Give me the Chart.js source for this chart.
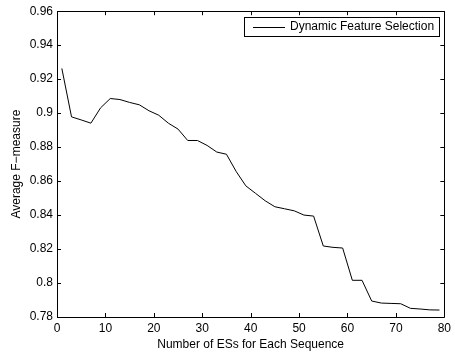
<!DOCTYPE html>
<html>
<head>
<meta charset="utf-8">
<script src="https://cdn.jsdelivr.net/npm/chart.js@4"></script>
<style>
  body { margin: 0; background: #fff; }
  #wrap { width: 455px; height: 354px; }
</style>
</head>
<body>
<div id="wrap"><canvas id="myChart" width="455" height="354"></canvas></div>
<script>
// number of ESs (x) and average F-measure (y)
var numES = [1, 3, 5, 7, 9, 11, 13, 15, 17, 19, 21, 23, 25, 27, 29, 31, 33, 35, 37, 39,
             41, 43, 45, 47, 49, 51, 53, 55, 57, 59, 61, 63, 65, 67, 69, 71, 73, 75, 77, 79];
var fMeasure = [0.9263, 0.8978, 0.8960, 0.8941, 0.9031, 0.9086, 0.9080, 0.9063, 0.9049, 0.9014,
                0.8988, 0.8941, 0.8906, 0.8839, 0.8839, 0.8810, 0.8771, 0.8758, 0.8657, 0.8572,
                0.8528, 0.8484, 0.8449, 0.8437, 0.8425, 0.8400, 0.8394, 0.8218, 0.8210, 0.8206,
                0.8016, 0.8016, 0.7894, 0.7882, 0.7880, 0.7878, 0.7851, 0.7847, 0.7842, 0.7841];
var xTicks = [0, 10, 20, 30, 40, 50, 60, 70, 80];
var yTicks = [0.78, 0.8, 0.82, 0.84, 0.86, 0.88, 0.9, 0.92, 0.94, 0.96];
var seriesName = 'Dynamic Feature Selection';

var FAMILY = '"Liberation Sans", Arial, sans-serif';

// matlab style box, inward ticks and boxed legend
var matlabBox = {
  id: 'matlabBox',
  afterDraw: function(chart) {
    var ctx = chart.ctx;
    var a = chart.chartArea;
    var xs = chart.scales.x, ys = chart.scales.y;
    ctx.save();
    ctx.strokeStyle = '#000';
    ctx.lineWidth = 1;
    ctx.beginPath();
    ctx.rect(Math.round(a.left) + 0.5, Math.round(a.top) + 0.5,
             Math.round(a.right - a.left), Math.round(a.bottom - a.top));
    ctx.stroke();
    var tl = 4;
    ctx.beginPath();
    xTicks.forEach(function(v) {
      var px = Math.round(xs.getPixelForValue(v)) + 0.5;
      ctx.moveTo(px, a.bottom); ctx.lineTo(px, a.bottom - tl);
      ctx.moveTo(px, a.top); ctx.lineTo(px, a.top + tl);
    });
    yTicks.forEach(function(v) {
      var py = Math.round(ys.getPixelForValue(v)) + 0.5;
      ctx.moveTo(a.left, py); ctx.lineTo(a.left + tl, py);
      ctx.moveTo(a.right, py); ctx.lineTo(a.right - tl, py);
    });
    ctx.stroke();

    // legend
    var lx = 244, ly = 17, lw = 195, lh = 19;
    ctx.fillStyle = '#fff';
    ctx.fillRect(lx, ly, lw, lh);
    ctx.strokeRect(lx + 0.5, ly + 0.5, lw, lh);
    ctx.beginPath();
    ctx.moveTo(253, ly + 10.5); ctx.lineTo(285, ly + 10.5);
    ctx.stroke();
    ctx.fillStyle = '#000';
    ctx.font = '12px ' + FAMILY;
    ctx.textBaseline = 'middle';
    ctx.fillText(seriesName, 290, ly + 10);
    ctx.restore();
  }
};

var ctx = document.getElementById('myChart').getContext('2d');
var myChart = new Chart(ctx, {
  type: 'line',
  data: {
    datasets: [{
      label: seriesName,
      data: numES.map(function(x, i) { return { x: x, y: fMeasure[i] }; }),
      fill: false,
      borderColor: '#000',
      borderWidth: 1,
      pointRadius: 0,
      tension: 0
    }]
  },
  options: {
    responsive: false,
    animation: false,
    events: [],
    layout: { padding: { top: 11, right: 7, left: 0, bottom: 0 } },
    plugins: {
      legend: { display: false },
      tooltip: { enabled: false }
    },
    scales: {
      x: {
        type: 'linear',
        min: 0, max: 80,
        afterFit: function(s) { s.height = 37; },
        afterBuildTicks: function(s) { s.ticks = xTicks.map(function(v) { return { value: v }; }); },
        grid: { display: false, drawTicks: false },
        border: { display: false },
        ticks: { color: '#000', font: { family: FAMILY, size: 12 }, padding: 4, maxRotation: 0 },
        title: { display: true, text: 'Number of ESs for Each Sequence', color: '#000',
                 font: { family: FAMILY, size: 12 }, padding: { top: 0, bottom: 2 } }
      },
      y: {
        min: 0.78, max: 0.96,
        afterFit: function(s) { s.width = 57; },
        afterBuildTicks: function(s) { s.ticks = yTicks.map(function(v) { return { value: v }; }); },
        grid: { display: false, drawTicks: false },
        border: { display: false },
        ticks: {
          color: '#000', font: { family: FAMILY, size: 12 }, padding: 4,
          callback: function(v) { return String(parseFloat(v.toFixed(2))); }
        },
        title: { display: true, text: 'Average F\u2212measure', color: '#000',
                 font: { family: FAMILY, size: 12 }, padding: { top: 9, bottom: 0 } }
      }
    }
  },
  plugins: [matlabBox]
});
</script>
</body>
</html>
